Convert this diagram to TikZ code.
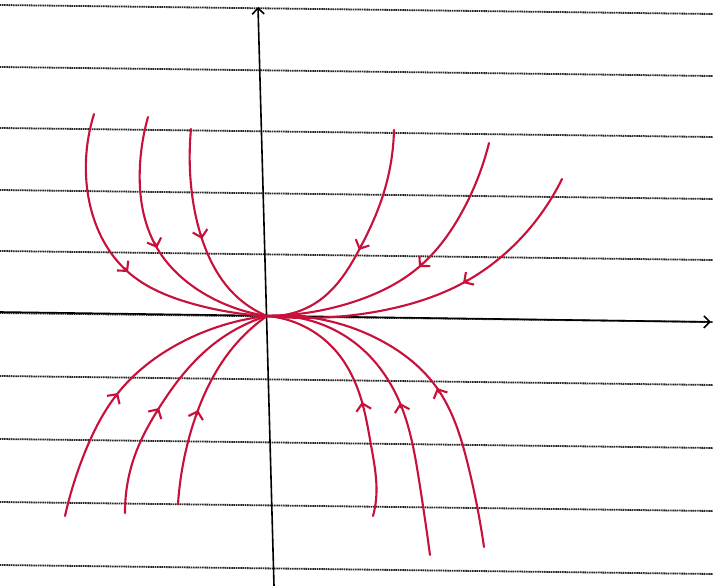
\documentclass[tikz,border=0pt]{standalone}
\usetikzlibrary{arrows.meta,calc,hobby}
\definecolor{ink}{RGB}{200,16,58}
\begin{document}
\begin{tikzpicture}[x=1pt,y=-1pt,
  paper/.style={draw=black!85, line width=1.8pt, dash pattern=on 1.2pt off 0.6pt},
  axisline/.style={draw=black, line width=1.6pt, -{Straight Barb[length=6pt,width=12pt]}},
  flow/.style={draw=ink, line width=2.1pt, line cap=round, line join=round, use Hobby shortcut},
  flowtip/.style={draw=ink, line width=2.1pt, line cap=round, -{Straight Barb[length=7pt,width=15pt]}}]
\fill[white] (0,0) rectangle (713,586);
\useasboundingbox (0,0) rectangle (713,586);
% ruled paper
\foreach \yy in {5,67,128,190,251,313,376,439,502,565}
  \draw[paper] (0,\yy) -- (713,\yy+9);
% axes
\coordinate (O) at (267,316);
\coordinate (ybot) at (274,586);
\coordinate (ytop) at (258,7);
\coordinate (xl) at (0,312);
\coordinate (xr) at (711,322);
\draw[axisline] (ybot) -- (ytop);
\draw[axisline] (xl) -- (xr);
% upper-left trajectories
\draw[flow] (94,114) .. (86,160) .. (90,205) .. (128,272) .. (190,303) .. (O);
\draw[flow] (148,117) .. (140,165) .. (157,248) .. (210,297) .. (O);
\draw[flow] (191,129) .. (191,185) .. (202,239) .. (235,295) .. (O);
% upper-right trajectories
\draw[flow] (394,130) .. (384,192) .. (359,250) .. (320,300) .. (O);
\draw[flow] (489,143) .. (462,212) .. (419,267) .. (350,303) .. (O);
\draw[flow] (562,179) .. (523,236) .. (463,283) .. (385,310) .. (O);
% lower-left trajectories
\draw[flow] (65,516) .. (85,452) .. (118,393) .. (180,343) .. (O);
\draw[flow] (125,513) .. (135,455) .. (159,408) .. (215,343) .. (O);
\draw[flow] (178,504) .. (186,450) .. (198,410) .. (235,345) .. (O);
% lower-right trajectories
\draw[flow] (373,516) .. (376,500) .. (371,445) .. (362,402) .. (335,350) .. (O);
\draw[flow] (430,555) .. (419,480) .. (400,403) .. (360,347) .. (O);
\draw[flow] (484,547) .. (468,465) .. (437,388) .. (380,340) .. (O);
% arrowheads
\draw[flowtip] ($(128,272)!5pt!(105,245)$) -- (128,272);
\draw[flowtip] ($(157,248)!5pt!(145,215)$) -- (157,248);
\draw[flowtip] ($(202,239)!5pt!(195,210)$) -- (202,239);
\draw[flowtip] ($(359,250)!5pt!(372,222)$) -- (359,250);
\draw[flowtip] ($(419,267)!5pt!(440,245)$) -- (419,267);
\draw[flowtip] ($(463,283)!5pt!(495,262)$) -- (463,283);
\draw[flowtip] ($(118,393)!5pt!(100,420)$) -- (118,393);
\draw[flowtip] ($(159,408)!5pt!(145,432)$) -- (159,408);
\draw[flowtip] ($(198,410)!5pt!(190,438)$) -- (198,410);
\draw[flowtip] ($(362,402)!5pt!(368,430)$) -- (362,402);
\draw[flowtip] ($(400,403)!5pt!(410,440)$) -- (400,403);
\draw[flowtip] ($(437,388)!5pt!(452,420)$) -- (437,388);
\end{tikzpicture}
\end{document}
